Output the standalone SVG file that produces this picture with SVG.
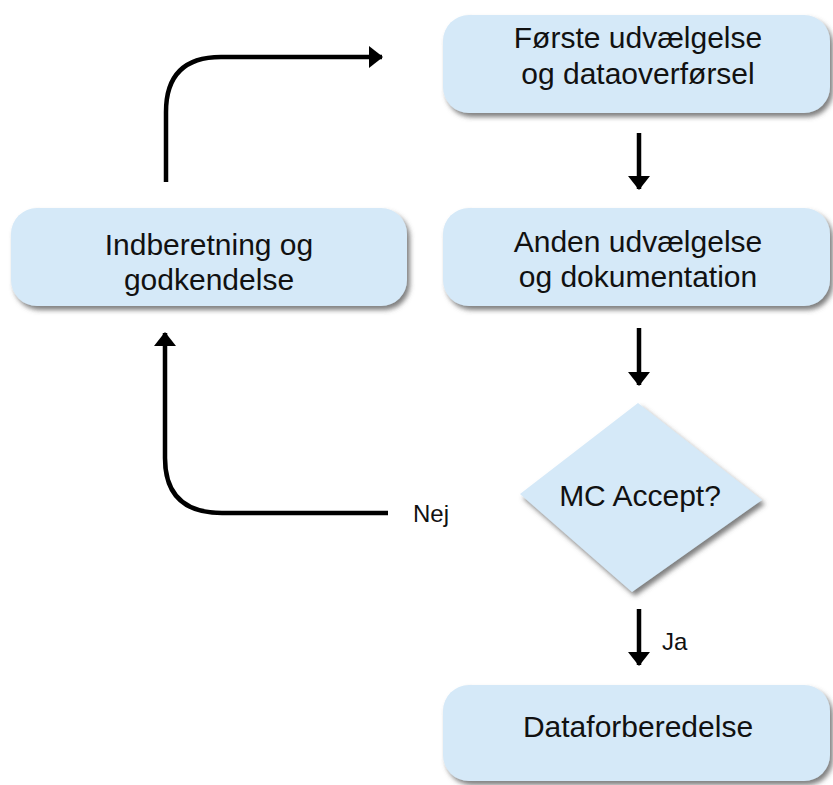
<svg xmlns="http://www.w3.org/2000/svg" width="833" height="785" viewBox="0 0 833 785">
<defs>
<filter id="sh" x="-10%" y="-10%" width="125%" height="130%">
<feDropShadow dx="3" dy="4" stdDeviation="2.5" flood-color="#555" flood-opacity="0.75"/>
</filter>
<marker id="ah" viewBox="0 0 14 22" refX="13" refY="11" markerWidth="14" markerHeight="22" orient="auto" markerUnits="userSpaceOnUse">
<path d="M0,0 L14,11 L0,22 z" fill="#000"/>
</marker>
</defs>
<style>
.box{fill:#d5e9f8;filter:url(#sh)}
.t{font-family:"Liberation Sans",Arial,sans-serif;font-size:30px;fill:#111;text-anchor:middle}
.s{font-family:"Liberation Sans",Arial,sans-serif;font-size:24px;fill:#111}
.c{fill:none;stroke:#000;stroke-width:4.5}
</style>
<rect width="833" height="785" fill="#fff"/>
<g id="connectors">
<path class="c" d="M166,182 V112 Q166,57 221,57 H382" marker-end="url(#ah)"/>
<path class="c" d="M388,513 H222 Q165,513 165,458 V333" marker-end="url(#ah)"/>
<path class="c" d="M639,133 V189" marker-end="url(#ah)"/>
<path class="c" d="M639,328 V385" marker-end="url(#ah)"/>
<path class="c" d="M639,609 V665" marker-end="url(#ah)"/>
<text class="s" x="413" y="522">Nej</text>
<text class="s" x="662" y="650">Ja</text>
</g>
<g id="n1">
<rect class="box" x="443" y="15" width="387" height="98" rx="26"/>
<text class="t" x="638" y="48">Første udvælgelse</text>
<text class="t" x="638" y="84">og dataoverførsel</text>
</g>
<g id="n2">
<rect class="box" x="443" y="208" width="387" height="98" rx="26"/>
<text class="t" x="638" y="252">Anden udvælgelse</text>
<text class="t" x="638" y="287">og dokumentation</text>
</g>
<g id="n3">
<rect class="box" x="11" y="208" width="396" height="98" rx="26"/>
<text class="t" x="209" y="255">Indberetning og</text>
<text class="t" x="209" y="290">godkendelse</text>
</g>
<g id="n4">
<polygon class="box" points="638,403 762,500 632,592 520,494"/>
<text class="t" x="640" y="506">MC Accept?</text>
</g>
<g id="n5">
<rect class="box" x="443" y="685" width="387" height="96" rx="26"/>
<text class="t" x="638" y="737">Dataforberedelse</text>
</g>
</svg>
